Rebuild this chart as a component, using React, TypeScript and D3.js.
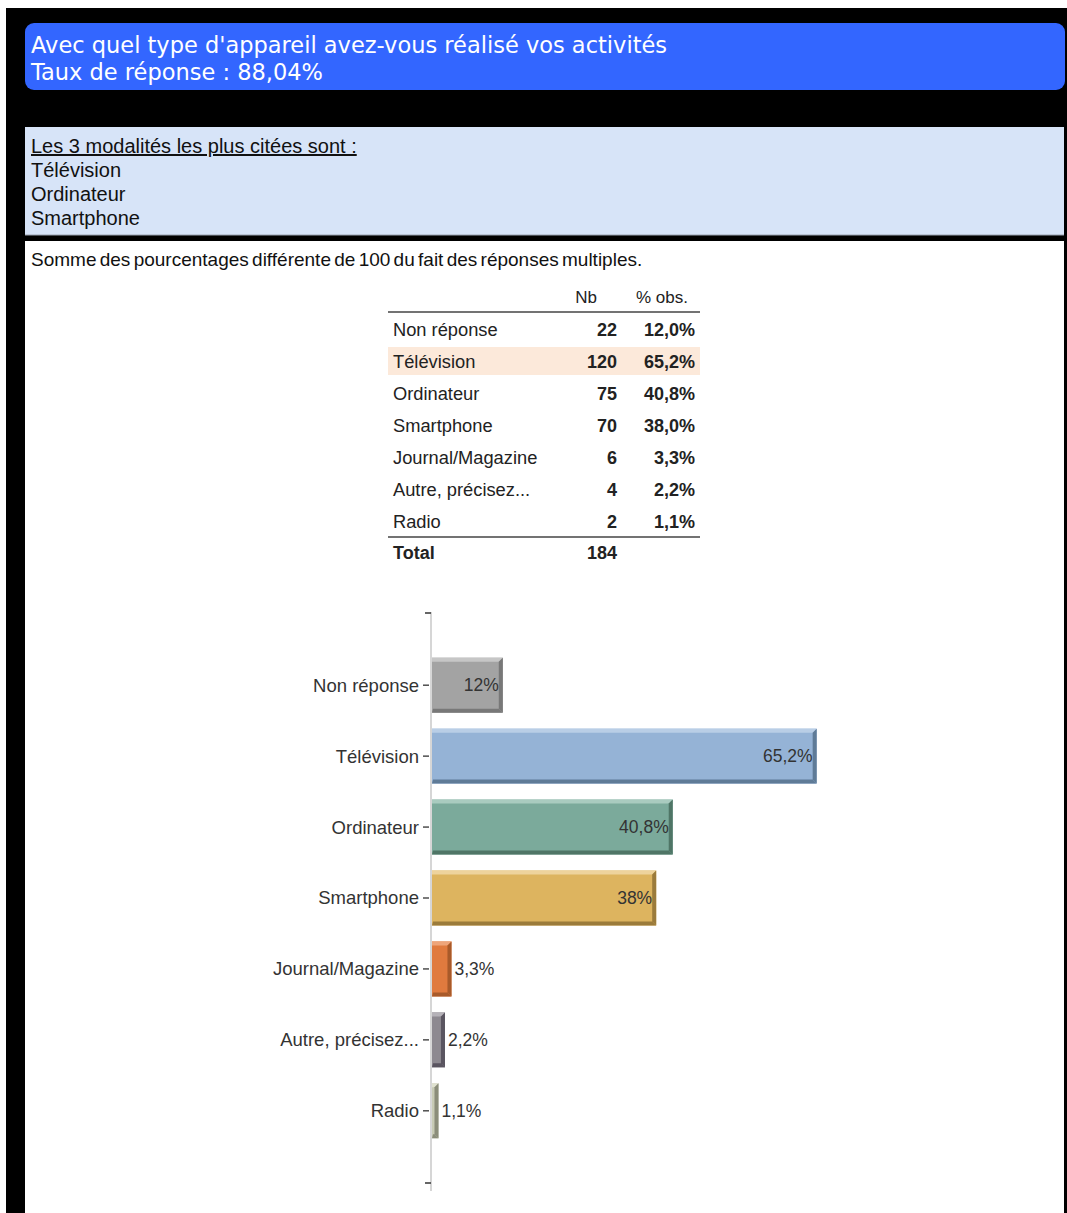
import React from "react";
import * as d3 from "d3";

const categories = ["Non réponse", "Télévision", "Ordinateur", "Smartphone", "Journal/Magazine", "Autre, précisez...", "Radio"];
const counts = [22, 120, 75, 70, 6, 4, 2];
const percents = [12.0, 65.2, 40.8, 38.0, 3.3, 2.2, 1.1];
const tablePct = ["12,0%", "65,2%", "40,8%", "38,0%", "3,3%", "2,2%", "1,1%"];
const barLabels = ["12%", "65,2%", "40,8%", "38%", "3,3%", "2,2%", "1,1%"];
const totalCount = 184;
const topModalities = ["Télévision", "Ordinateur", "Smartphone"];
const highlightRow = "Télévision";
const titleLines = ["Avec quel type d'appareil avez-vous réalisé vos activités", "Taux de réponse : 88,04%"];
const note = "Somme des pourcentages différente de 100 du fait des réponses multiples.";

const barColors = [
  { body: "#a3a3a3", light: "#c6c6c6", dark: "#787878" },
  { body: "#95b3d6", light: "#b9cee6", dark: "#5f7b97" },
  { body: "#7baa9b", light: "#a9cbbf", dark: "#4f7566" },
  { body: "#ddb45f", light: "#eed39c", dark: "#9b7b3b" },
  { body: "#e07a3e", light: "#eea57a", dark: "#a85a2a" },
  { body: "#8d8990", light: "#b5b2b8", dark: "#5a5560" },
  { body: "#c8cbb5", light: "#e0e2d0", dark: "#8b8d7a" },
];

const ARIAL = "'Liberation Sans', Arial, sans-serif";

export default function App() {
  const x = d3.scaleLinear().domain([0, 100]).range([432, 1022]);
  const y = d3.scaleBand<string>().domain(categories).range([613, 1183]).paddingInner(0.225).paddingOuter(0.63);
  const bw = y.bandwidth();
  const b = 4;

  const rowY = d3.scaleLinear().domain([0, 1]).range([336, 368]);

  return (
    <svg width={1067} height={1213} style={{ position: "absolute", left: 0, top: 0, display: "block" }}>
      <rect x={0} y={0} width={1067} height={1213} fill="#ffffff" />
      <rect x={6} y={8} width={1061} height={1205} fill="#000000" />
      {/* header */}
      <rect x={25} y={23} width={1040} height={67} rx={9} fill="#3366ff" />
      {titleLines.map((t, i) => (
        <text key={i} x={31} y={53 + i * 27} fill="#ffffff" fontFamily="'DejaVu Sans', Verdana, sans-serif" fontSize={22.5}>
          {t}
        </text>
      ))}
      {/* top modalities box */}
      <rect x={25} y={127} width={1039} height={108} fill="#d7e4f8" />
      <line x1={25} x2={1064} y1={235} y2={235} stroke="#9aa3b0" strokeWidth={1} />
      <text x={31} y={153} fontFamily={ARIAL} fontSize={20} fill="#111" textDecoration="underline">
        Les 3 modalités les plus citées sont :
      </text>
      {topModalities.map((m, i) => (
        <text key={m} x={31} y={177 + i * 24} fontFamily={ARIAL} fontSize={20} fill="#111">
          {m}
        </text>
      ))}
      {/* main white area */}
      <rect x={25} y={241} width={1039} height={972} fill="#ffffff" />
      <text x={31} y={266} fontFamily={ARIAL} fontSize={19} fill="#111" wordSpacing={-2}>
        {note}
      </text>

      {/* table */}
      <g fontFamily={ARIAL} fill="#222">
        <text x={597} y={303} fontSize={17} textAnchor="end">Nb</text>
        <text x={688} y={303} fontSize={17} textAnchor="end">% obs.</text>
        <line x1={388} x2={700} y1={312} y2={312} stroke="#444" strokeWidth={1.5} />
        {categories.map((c, i) => {
          const by = rowY(i);
          return (
            <g key={c}>
              {c === highlightRow && <rect x={388} y={by - 21} width={312} height={28} fill="#fce9da" />}
              <text x={393} y={by} fontSize={18.3}>{c}</text>
              <text x={617} y={by} fontSize={18} fontWeight="bold" textAnchor="end">{counts[i]}</text>
              <text x={695} y={by} fontSize={18} fontWeight="bold" textAnchor="end">{tablePct[i]}</text>
            </g>
          );
        })}
        <line x1={388} x2={700} y1={537} y2={537} stroke="#444" strokeWidth={1.5} />
        <text x={393} y={rowY(categories.length) - 1} fontSize={18} fontWeight="bold">Total</text>
        <text x={617} y={rowY(categories.length) - 1} fontSize={18} fontWeight="bold" textAnchor="end">{totalCount}</text>
      </g>

      {/* chart axis */}
      <line x1={431} x2={431} y1={612} y2={1191} stroke="#c8c8c8" strokeWidth={1.5} />
      <line x1={425} x2={431} y1={613} y2={613} stroke="#333" strokeWidth={1.5} />
      <line x1={425} x2={431} y1={1183} y2={1183} stroke="#333" strokeWidth={1.5} />

      {categories.map((c, i) => {
        const y0 = y(c)!;
        const y1 = y0 + bw;
        const cy = y0 + bw / 2;
        const x0 = x(0);
        const x1 = x(percents[i]);
        const col = barColors[i];
        const inside = percents[i] > 10;
        return (
          <g key={c}>
            <line x1={423} x2={429} y1={cy} y2={cy} stroke="#333" strokeWidth={1.3} />
            <text x={419} y={cy} dy="0.35em" textAnchor="end" fontFamily={ARIAL} fontSize={18.5} fill="#333">
              {c}
            </text>
            <rect x={x0} y={y0} width={x1 - x0} height={bw} fill={col.body} />
            <polygon points={`${x0},${y0} ${x1},${y0} ${x1 - b},${y0 + b} ${x0},${y0 + b}`} fill={col.light} />
            <polygon points={`${x1},${y0} ${x1},${y1} ${x1 - b},${y1 - b} ${x1 - b},${y0 + b}`} fill={col.dark} />
            <polygon points={`${x0},${y1} ${x1},${y1} ${x1 - b},${y1 - b} ${x0 + 1},${y1 - b}`} fill={col.dark} />
            <text
              x={inside ? x1 - 4 : x1 + 3}
              y={cy}
              dy="0.35em"
              textAnchor={inside ? "end" : "start"}
              fontFamily={ARIAL}
              fontSize={17.5}
              fill="#333"
            >
              {barLabels[i]}
            </text>
          </g>
        );
      })}
    </svg>
  );
}
